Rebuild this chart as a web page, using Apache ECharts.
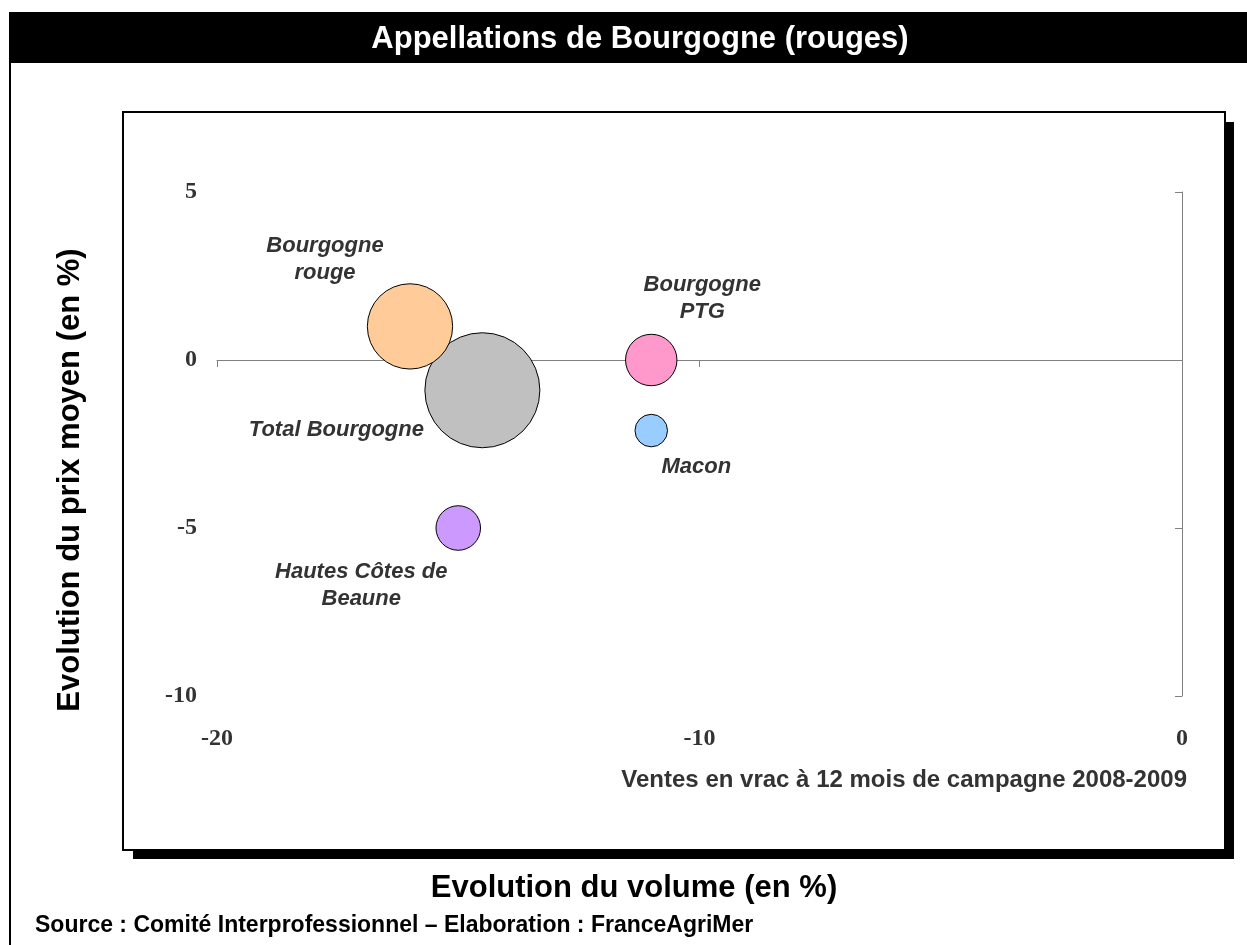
<!DOCTYPE html>
<html>
<head>
<meta charset="utf-8">
<title>Appellations de Bourgogne (rouges)</title>
<script src="https://cdn.jsdelivr.net/npm/echarts@6/dist/echarts.min.js"></script>
<style>
  html, body { margin: 0; padding: 0; background: #fff; }
  #chart { width: 1247px; height: 945px; }
</style>
</head>
<body>
<div id="chart"></div>
<script>
// appellations (ordre de tracé : le plus gros d'abord)
const names = ['Total Bourgogne', 'Bourgogne rouge', 'Bourgogne PTG', 'Macon', 'Hautes Côtes de Beaune'];
const labelTexts = ['Total Bourgogne', 'Bourgogne\nrouge', 'Bourgogne\nPTG', 'Macon', 'Hautes Côtes de\nBeaune'];
// évolution du volume (%)
const volumeChange = [-14.5, -16.0, -11.0, -11.0, -15.0];
// évolution du prix moyen (%)
const priceChange = [-0.9, 1.0, 0.0, -2.1, -5.0];
// poids relatif des bulles (surface)
const bubbleWeight = [100, 55, 20, 8, 15];
const bubbleColors = ['#C0C0C0', '#FFCC99', '#FF99CC', '#99CCFF', '#CC99FF'];

const xMin = -20, xMax = 0, xStep = 10;
const yMin = -10, yMax = 5, yStep = 5;

// décalage des étiquettes par rapport au centre de la bulle
const labelOffsets = [[-146, 40], [-85, -67], [51, -62], [45, 36], [-97, 57]];

const SANS = 'Liberation Sans, Arial, sans-serif';
const SERIF = 'Liberation Serif, Times New Roman, serif';

const chart = echarts.init(document.getElementById('chart'));

const data = names.map((n, i) => ({
    name: n,
    value: [volumeChange[i], priceChange[i], bubbleWeight[i]],
    itemStyle: { color: bubbleColors[i] },
    label: { formatter: labelTexts[i], offset: labelOffsets[i] }
}));

const option = {
    animation: false,
    grid: { left: 217, right: 65, top: 192, bottom: 249 },
    xAxis: [
        {
            type: 'value', min: xMin, max: xMax, interval: xStep,
            position: 'bottom',
            axisLine: { show: false, onZero: false },
            axisTick: { show: false },
            splitLine: { show: false },
            axisLabel: { margin: 31, color: '#333', fontFamily: SERIF, fontWeight: 'bold', fontSize: 24 }
        },
        {
            type: 'value', min: xMin, max: xMax, interval: xStep,
            position: 'bottom',
            axisLine: { show: true, onZero: true, onZeroAxisIndex: 0, lineStyle: { color: '#808080', width: 1 } },
            axisTick: { show: true, length: 7, lineStyle: { color: '#808080' } },
            splitLine: { show: false },
            axisLabel: { show: false }
        }
    ],
    yAxis: [
        {
            type: 'value', min: yMin, max: yMax, interval: yStep,
            position: 'left',
            axisLine: { show: false, onZero: false },
            axisTick: { show: false },
            splitLine: { show: false },
            axisLabel: { margin: 20, color: '#333', fontFamily: SERIF, fontWeight: 'bold', fontSize: 24 }
        },
        {
            type: 'value', min: yMin, max: yMax, interval: yStep,
            position: 'right',
            axisLine: { show: true, onZero: false, lineStyle: { color: '#808080', width: 1 } },
            axisTick: { show: true, inside: true, length: 7, lineStyle: { color: '#808080' } },
            splitLine: { show: false },
            axisLabel: { show: false }
        }
    ],
    series: [{
        type: 'scatter',
        xAxisIndex: 0,
        yAxisIndex: 0,
        data: data,
        symbolSize: v => 115 * Math.sqrt(v[2] / 100),
        itemStyle: { borderColor: '#000', borderWidth: 1, opacity: 1 },
        label: {
            show: true,
            position: 'inside',
            color: '#333',
            fontFamily: SANS,
            fontStyle: 'italic',
            fontWeight: 'bold',
            fontSize: 22,
            lineHeight: 27,
            align: 'center',
            verticalAlign: 'middle'
        },
        emphasis: { disabled: true }
    }],
    graphic: [
        { type: 'rect', z: -10, shape: { x: 9, y: 12, width: 1238, height: 51 }, style: { fill: '#000' } },
        { type: 'line', z: -10, shape: { x1: 10, y1: 12, x2: 10, y2: 945 }, style: { stroke: '#000', lineWidth: 2 } },
        { type: 'rect', z: -10, shape: { x: 133, y: 122, width: 1101, height: 737 }, style: { fill: '#000' } },
        { type: 'rect', z: -9, shape: { x: 123, y: 112, width: 1102, height: 738 }, style: { fill: '#fff', stroke: '#000', lineWidth: 2 } },
        {
            type: 'text', z: 100, x: 640, y: 39,
            style: { text: 'Appellations de Bourgogne (rouges)', fill: '#fff', font: 'bold 31px ' + SANS, textAlign: 'center', textVerticalAlign: 'middle' }
        },
        {
            type: 'text', z: 100, x: 70, y: 480, rotation: Math.PI / 2,
            style: { text: 'Evolution du prix moyen (en %)', fill: '#000', font: 'bold 31px ' + SANS, textAlign: 'center', textVerticalAlign: 'middle' }
        },
        {
            type: 'text', z: 100, x: 1187, y: 780,
            style: { text: 'Ventes en vrac à 12 mois de campagne 2008-2009', fill: '#333', font: 'bold 24px ' + SANS, textAlign: 'right', textVerticalAlign: 'middle' }
        },
        {
            type: 'text', z: 100, x: 634, y: 888,
            style: { text: 'Evolution du volume (en %)', fill: '#000', font: 'bold 31px ' + SANS, textAlign: 'center', textVerticalAlign: 'middle' }
        },
        {
            type: 'text', z: 100, x: 35, y: 926,
            style: { text: 'Source : Comité Interprofessionnel – Elaboration : FranceAgriMer', fill: '#000', font: 'bold 23px ' + SANS, textAlign: 'left', textVerticalAlign: 'middle' }
        }
    ]
};

chart.setOption(option);
</script>
</body>
</html>
